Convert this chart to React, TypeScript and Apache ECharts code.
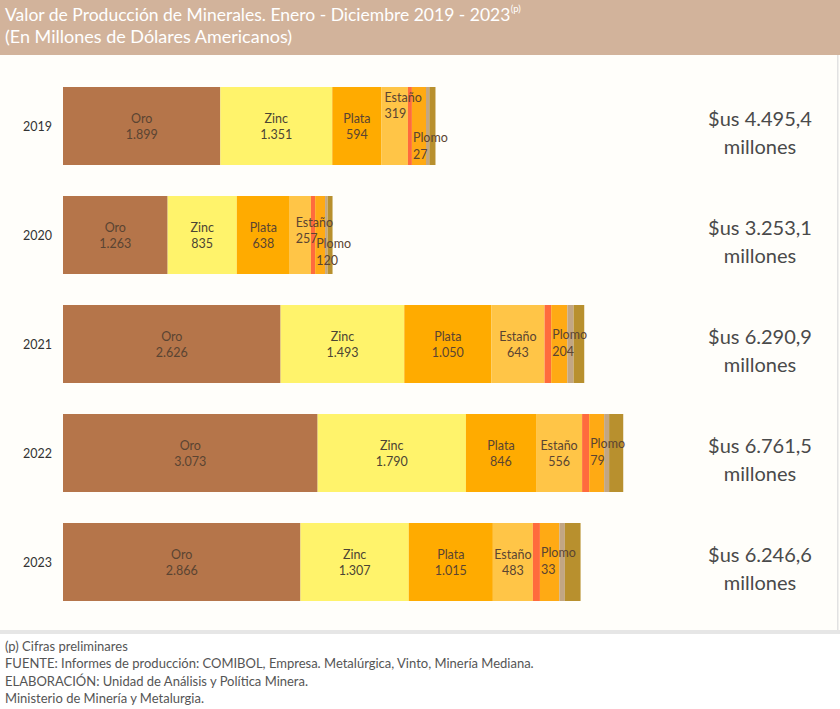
import React, { useEffect, useRef } from "react";
import * as echarts from "echarts";

const years = ["2019", "2020", "2021", "2022", "2023"];
const oro = [1899, 1263, 2626, 3073, 2866];
const zinc = [1351, 835, 1493, 1790, 1307];
const plata = [594, 638, 1050, 846, 1015];
const estano = [319, 257, 643, 556, 483];
const cobre = [48, 50, 80, 85, 85];
const plomo = [170, 120, 195, 181, 235];
const plomoRotulo = [27, 120, 204, 79, 33];
const antimonio = [40, 30, 75, 60, 66];
const otros = [74.4, 60.1, 128.9, 170.5, 189.6];
const totales = [4495.4, 3253.1, 6290.9, 6761.5, 6246.6];

const titulo1 = "Valor de Producción de Minerales. Enero - Diciembre 2019 - 2023";
const titulo2 = "(En Millones de Dólares Americanos)";
const notas = [
  "(p) Cifras preliminares",
  "FUENTE: Informes de producción: COMIBOL, Empresa. Metalúrgica, Vinto, Minería Mediana.",
  "ELABORACIÓN: Unidad de Análisis y Política Minera.",
  "Ministerio de Minería y Metalurgia.",
];

const FONT = "Lato, 'Open Sans', sans-serif";

const miles = (v: number) => String(Math.round(v)).replace(/\B(?=(\d{3})+(?!\d))/g, ".");
const totalFmt = (v: number) => {
  const [e, d] = v.toFixed(1).split(".");
  return e.replace(/\B(?=(\d{3})+(?!\d))/g, ".") + "," + d;
};

const labelBase = {
  color: "#5a4432",
  fontFamily: FONT,
  fontSize: 12.5,
  lineHeight: 16,
};

export default function App() {
  const ref = useRef<HTMLDivElement>(null);
  useEffect(() => {
    if (!ref.current) return;
    const chart = echarts.init(ref.current, undefined, { renderer: "svg" });

    const inside = (name: string) => ({
      show: true,
      position: "inside",
      ...labelBase,
      formatter: (p: any) => `${name}\n${miles(p.value)}`,
    });

    const estanoData = estano.map((v, i) => {
      if (i === 0)
        return { value: v, label: { position: [3, 2], align: "left", verticalAlign: "top" } };
      if (i === 1)
        return { value: v, label: { position: [6, 18], align: "left", verticalAlign: "top" } };
      return { value: v };
    });

    const plomoData = plomo.map((v, i) => ({
      value: v,
      label: {
        position: i < 2 ? [1, i === 0 ? 42 : 39] : [1, 21],
        align: "left",
        verticalAlign: "top",
      },
    }));

    const mk = (name: string, data: any[], color: string, label?: any) => ({
      name,
      type: "bar",
      stack: "total",
      barWidth: 78,
      data,
      itemStyle: { color },
      label: label || { show: false },
      emphasis: { disabled: true },
    });

    const option: any = {
      animation: false,
      backgroundColor: "#ffffff",
      grid: { left: 63, right: 197, top: 71.5, height: 545, containLabel: false },
      xAxis: {
        type: "value",
        min: 0,
        max: 7000,
        show: false,
      },
      yAxis: [
        {
          type: "category",
          data: years,
          inverse: true,
          axisLine: { show: false },
          axisTick: { show: false },
          axisLabel: { color: "#333", fontSize: 12.5, fontFamily: FONT, margin: 11 },
        },
        {
          type: "category",
          data: years,
          inverse: true,
          position: "right",
          axisLine: { show: false },
          axisTick: { show: false },
          axisLabel: {
            margin: 117,
            align: "center",
            padding: [12, 0, 0, 0],
            formatter: (_v: string, i: number) => `{a|$us ${totalFmt(totales[i])}}\n{a|millones}`,
            rich: {
              a: { fontSize: 20, fontFamily: FONT, color: "#4a4a4a", lineHeight: 28, align: "center" },
            },
          },
        },
      ],
      series: [
        mk("Oro", oro, "#B5754A", inside("Oro")),
        mk("Zinc", zinc, "#FFF36B", { ...inside("Zinc"), color: "#4b4434" }),
        mk("Plata", plata, "#FFAB00", inside("Plata")),
        mk("Estaño", estanoData, "#FFC547", inside("Estaño")),
        mk("Cobre", cobre, "#FF6B3D"),
        mk("Plomo", plomoData, "#FFAA14", {
          show: true,
          ...labelBase,
          lineHeight: 17,
          formatter: (p: any) => `Plomo\n${plomoRotulo[p.dataIndex]}`,
        }),
        mk("Antimonio", antimonio, "#C2A684"),
        mk("Otros", otros, "#B8902E"),
      ],
      graphic: [
        { type: "rect", z: -10, shape: { x: 0, y: 0, width: 840, height: 55 }, style: { fill: "#D2B39B" } },
        { type: "rect", z: -10, shape: { x: 0, y: 55, width: 840, height: 575 }, style: { fill: "#FFFEFA" } },
        { type: "rect", z: -9, shape: { x: 837, y: 55, width: 1.5, height: 575 }, style: { fill: "#E2E2E2" } },
        { type: "rect", z: -9, shape: { x: 0, y: 630, width: 840, height: 4 }, style: { fill: "#E6E6E6" } },
        {
          type: "text",
          z: 100,
          x: 5,
          y: 14,
          style: {
            text: `{t|${titulo1}}{s|(p)}`,
            fill: "#ffffff",
            verticalAlign: "middle",
            rich: {
              t: { fontSize: 17.5, fontFamily: FONT, fill: "#ffffff", lineHeight: 22 },
              s: { fontSize: 9.5, fontFamily: FONT, fill: "#ffffff", lineHeight: 22, verticalAlign: "top" },
            },
          },
        },
        {
          type: "text",
          z: 100,
          x: 5,
          y: 36,
          style: {
            text: titulo2,
            fill: "#ffffff",
            font: `18px ${FONT}`,
            verticalAlign: "middle",
          },
        },
        ...notas.map((t, i) => ({
          type: "text",
          z: 100,
          x: 5,
          y: 646 + i * 17.3,
          style: { text: t, fill: "#555", font: `13px ${FONT}`, verticalAlign: "middle" },
        })),
      ],
    };
    chart.setOption(option);
    return () => chart.dispose();
  }, []);
  return (
    <div
      ref={ref}
      style={{ position: "absolute", left: 0, top: 0, width: 840, height: 709 }}
    />
  );
}
